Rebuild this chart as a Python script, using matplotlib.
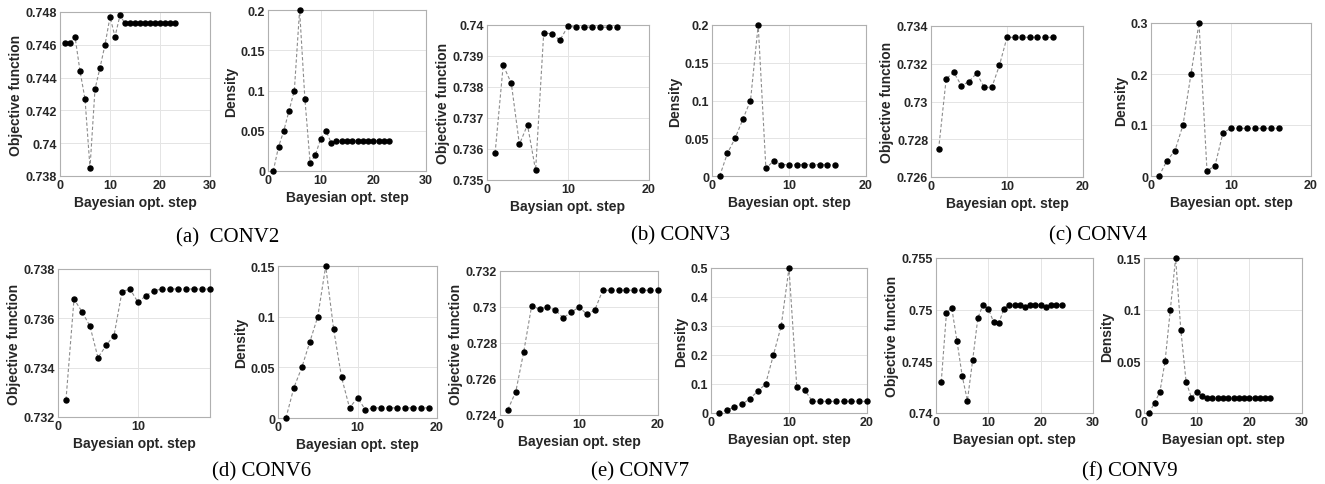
import numpy as np
import matplotlib
matplotlib.use("Agg")
import matplotlib.pyplot as plt
from matplotlib.ticker import FuncFormatter

plt.rcParams['font.family'] = ['Liberation Sans', 'DejaVu Sans']

# ---------------- data ----------------
a_obj = [0.7461, 0.7461, 0.7465, 0.7444, 0.7427, 0.7385, 0.7433, 0.7446, 0.7460, 0.7477,
         0.7465, 0.7478, 0.7473, 0.7473, 0.7473, 0.7473, 0.7473, 0.7473, 0.7473, 0.7473,
         0.7473, 0.7473, 0.7473]
a_den = [0.0, 0.03, 0.05, 0.075, 0.1, 0.2, 0.09, 0.01, 0.02, 0.04, 0.05, 0.035,
         0.0375, 0.0375, 0.0375, 0.0375, 0.0375, 0.0375, 0.0375, 0.0375, 0.0375, 0.0375, 0.0375]

b_obj = [0.73587, 0.73870, 0.73812, 0.73615, 0.73678, 0.73531, 0.73974, 0.73972, 0.73951,
         0.73996, 0.73993, 0.73993, 0.73993, 0.73993, 0.73993, 0.73993]
b_den = [0.0, 0.03, 0.05, 0.075, 0.1, 0.2, 0.01, 0.02, 0.015, 0.015, 0.015, 0.015,
         0.015, 0.015, 0.015, 0.015]

c_obj = [0.72747, 0.73121, 0.73154, 0.73084, 0.73105, 0.73150, 0.73075, 0.73075, 0.73191,
         0.73340, 0.73340, 0.73340, 0.73340, 0.73340, 0.73340, 0.73340]
c_den = [0.0, 0.03, 0.05, 0.1, 0.2, 0.3, 0.01, 0.02, 0.085, 0.0935, 0.0935, 0.0935,
         0.0935, 0.0935, 0.0935, 0.0935]

d_obj = [0.7327, 0.73678, 0.73627, 0.73568, 0.7344, 0.7349, 0.7353, 0.73708, 0.73719,
         0.73665, 0.73692, 0.73712, 0.73719, 0.73719, 0.73719, 0.73719, 0.73719, 0.73719,
         0.73719]
d_den = [0.0, 0.03, 0.05, 0.075, 0.1, 0.15, 0.0875, 0.04, 0.01, 0.02, 0.008, 0.01,
         0.01, 0.01, 0.01, 0.01, 0.01, 0.01, 0.01]

e_obj = [0.7243, 0.7253, 0.7275, 0.73005, 0.72989, 0.73000, 0.72983, 0.72940, 0.72970,
         0.73000, 0.72960, 0.72983, 0.73093, 0.73093, 0.73093, 0.73093, 0.73093, 0.73093,
         0.73093, 0.73093]
e_den = [0.0, 0.01, 0.02, 0.03, 0.05, 0.075, 0.1, 0.2, 0.3, 0.5, 0.09, 0.08,
         0.04, 0.04, 0.04, 0.04, 0.04, 0.04, 0.04, 0.04]

f_obj = [0.7430, 0.7497, 0.7502, 0.7470, 0.7436, 0.7412, 0.7451, 0.7492, 0.7505, 0.7501,
         0.7488, 0.7487, 0.7501, 0.7505, 0.7505, 0.7505, 0.7503, 0.7505, 0.7505, 0.7505,
         0.7503, 0.7505, 0.7505, 0.7505]
f_den = [0.0, 0.01, 0.02, 0.05, 0.1, 0.15, 0.08, 0.03, 0.015, 0.02, 0.016, 0.015,
         0.015, 0.015, 0.015, 0.015, 0.015, 0.015, 0.015, 0.015, 0.015, 0.015, 0.015, 0.015]

captions = ["(a)  CONV2", "(b) CONV3", "(c) CONV4", "(d) CONV6", "(e) CONV7", "(f) CONV9"]
xlabel_std = "Bayesian opt. step"
xlabel_typo = "Baysian opt. step"

# ---------------- layout (pixels) ----------------
W, H = 1325, 485
fig = plt.figure(figsize=(W / 100, H / 100), dpi=100)

TICK_C = '#262626'
SPINE_C = '#b0b0b0'


def add_ax(l, r, t, b):
    return fig.add_axes([l / W, 1 - b / H, (r - l) / W, (b - t) / H])


def panel(box, vals, ylim, yticks, xlim, xticks, ylabel, xlabel):
    ax = add_ax(*box)
    x = np.arange(1, len(vals) + 1)
    ax.plot(x, vals, linestyle=(0, (3, 2)), color='#8c8c8c', linewidth=0.8, zorder=2,
            clip_on=False)
    ax.plot(x, vals, linestyle='none', marker='o', markersize=3.6,
            color='black', zorder=3, clip_on=False)
    ax.set_xlim(*xlim)
    ax.set_ylim(*ylim)
    ax.set_xticks(xticks)
    ax.set_yticks(yticks)
    ax.yaxis.set_major_formatter(FuncFormatter(lambda v, p: ('%g' % round(v, 4))))
    ax.grid(True, color='#e4e4e4', linewidth=0.7, zorder=0)
    ax.set_axisbelow(True)
    for s in ax.spines.values():
        s.set_color(SPINE_C)
        s.set_linewidth(0.8)
    ax.tick_params(axis='both', which='both', length=0, labelsize=9,
                   labelcolor=TICK_C, pad=2)
    for lab in ax.get_xticklabels() + ax.get_yticklabels():
        lab.set_fontweight('bold')
    ax.set_ylabel(ylabel, fontsize=10, fontweight='bold', color=TICK_C, labelpad=2)
    ax.set_xlabel(xlabel, fontsize=10, fontweight='bold', color=TICK_C, labelpad=3)
    return ax


# top row
panel((60, 210, 13, 177), a_obj, (0.738, 0.748), [0.738, 0.74, 0.742, 0.744, 0.746, 0.748],
      (0, 30), [0, 10, 20, 30], "Objective function", xlabel_std)
panel((268, 426, 11, 172), a_den, (0, 0.2), [0, 0.05, 0.1, 0.15, 0.2],
      (0, 30), [0, 10, 20, 30], "Density", xlabel_std)
panel((487, 649, 26, 181), b_obj, (0.735, 0.74), [0.735, 0.736, 0.737, 0.738, 0.739, 0.74],
      (0, 20), [0, 10, 20], "Objective function", xlabel_typo)
panel((712, 866, 26, 177), b_den, (0, 0.2), [0, 0.05, 0.1, 0.15, 0.2],
      (0, 20), [0, 10, 20], "Density", xlabel_std)
panel((931, 1083, 27, 178), c_obj, (0.726, 0.734), [0.726, 0.728, 0.73, 0.732, 0.734],
      (0, 20), [0, 10, 20], "Objective function", xlabel_std)
panel((1151, 1311, 24, 177), c_den, (0, 0.3), [0, 0.1, 0.2, 0.3],
      (0, 20), [0, 10, 20], "Density", xlabel_std)

# bottom row
panel((58, 210, 270, 418), d_obj, (0.732, 0.738), [0.732, 0.734, 0.736, 0.738],
      (0, 19), [0, 10], "Objective function", xlabel_std)
panel((278, 437, 267, 419), d_den, (0, 0.15), [0, 0.05, 0.1, 0.15],
      (0, 20), [0, 10, 20], "Density", xlabel_std)
panel((500, 658, 272, 416), e_obj, (0.724, 0.732), [0.724, 0.726, 0.728, 0.73, 0.732],
      (0, 20), [0, 10, 20], "Objective function", xlabel_std)
panel((711, 867, 269, 414), e_den, (0, 0.5), [0, 0.1, 0.2, 0.3, 0.4, 0.5],
      (0, 20), [0, 10, 20], "Density", xlabel_std)
panel((936, 1093, 259, 414), f_obj, (0.74, 0.755), [0.74, 0.745, 0.75, 0.755],
      (0, 30), [0, 10, 20, 30], "Objective function", xlabel_std)
panel((1144, 1302, 259, 414), f_den, (0, 0.15), [0, 0.05, 0.1, 0.15],
      (0, 30), [0, 10, 20, 30], "Density", xlabel_std)

# captions
cap_pos = [(228, 238), (681, 236), (1098, 236), (262, 472), (640, 472), (1130, 472)]
for txt, (cx, cy) in zip(captions, cap_pos):
    fig.text(cx / W, 1 - cy / H, txt, ha='center', va='center',
             fontsize=15, family=['Liberation Serif', 'DejaVu Serif'], color='black')

fig.savefig("out.png", dpi=100)
